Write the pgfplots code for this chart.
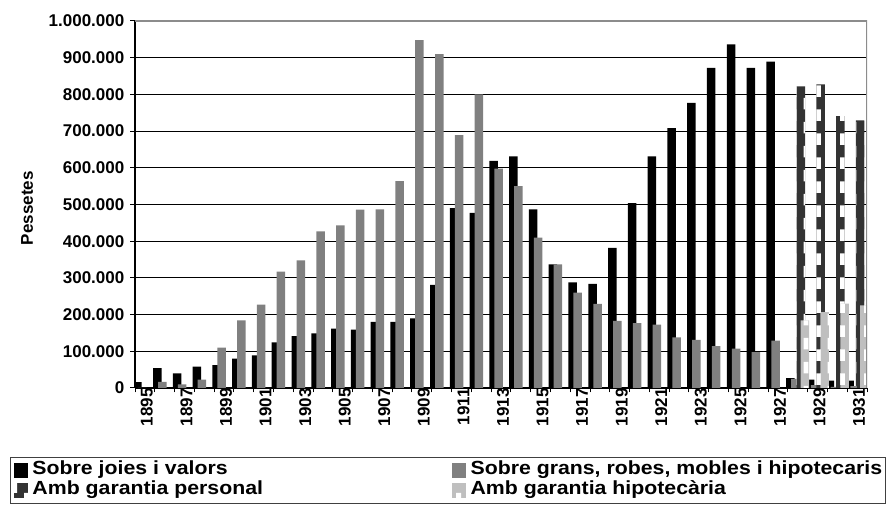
\documentclass[border=0pt]{standalone}
\usepackage{fontspec}
\setmainfont{Liberation Sans}
\newfontfamily\legfam[FakeStretch=1.12]{Liberation Sans}
\usepackage{pgfplots}
\pgfplotsset{compat=1.18}
\usetikzlibrary{patterns.meta}
\pgfdeclarepattern{
  name=bigchk,
  type=uncolored,
  bottom left={\pgfpoint{0pt}{0pt}},
  top right={\pgfpoint{24pt}{24pt}},
  tile size={\pgfpoint{24pt}{24pt}},
  code={
    \pgfpathrectangle{\pgfpoint{0pt}{0pt}}{\pgfpoint{5pt}{12pt}}
    \pgfpathrectangle{\pgfpoint{12pt}{12pt}}{\pgfpoint{5pt}{12pt}}
    \pgfusepath{fill}
  }
}
\newcommand\tickfont{\fontsize{17}{19}\selectfont\bfseries}
\newcommand\legfont{\legfam\fontsize{19}{20}\selectfont\bfseries}
\pgfplotsset{myleg/.style={legend image code/.code={\fill[##1] (0pt,-7.5pt) rectangle (14pt,7.5pt);}}}
\begin{document}
\begin{tikzpicture}
\useasboundingbox (0,0) rectangle (886pt,505pt);
\begin{axis}[
  at={(135pt,117pt)}, anchor=south west,
  scale only axis, width=732pt, height=367pt,
  xmin=-0.5, xmax=36.5, ymin=0, ymax=1000000,
  axis x line*=bottom, axis y line*=left,
  axis line style={black, line width=1.2pt},
  tick align=outside,
  major tick length=4.5pt,
  ytick={0,100000,200000,300000,400000,500000,600000,700000,800000,900000,1000000},
  yticklabels={0,100.000,200.000,300.000,400.000,500.000,600.000,700.000,800.000,900.000,1.000.000},
  scaled y ticks=false,
  ymajorgrids, grid style={black, line width=1.1pt},
  ytick style={black, line width=1pt},
  yticklabel style={font=\tickfont, inner xsep=0pt, xshift=-6pt},
  xtick={-0.5,0.5,...,36.5}, xticklabels={},
  xtick style={black, line width=1pt},
  extra x ticks={0,2,...,36},
  extra x tick labels={1895,1897,1899,1901,1903,1905,1907,1909,1911,1913,1915,1917,1919,1921,1923,1925,1927,1929,1931},
  extra x tick style={major tick length=0pt, tick label style={rotate=90, anchor=east, font=\tickfont, inner sep=0pt, yshift=-2pt}},
  ylabel={Pessetes},
  ylabel style={at={(axis description cs:-0.1475,0.49)}, anchor=center, font=\tickfont},
  bar width=8.5pt,
  legend columns=2,
  legend cell align=left,
  legend style={at={(axis description cs:-0.17077,-0.188)}, anchor=north west,
    draw=black!75, line width=1pt, inner xsep=3.5pt, inner ysep=3pt,
    font=\legfont, row sep=0pt,
    nodes={inner xsep=0pt, inner ysep=0pt, text height=14pt, text depth=6pt},
    /tikz/every odd column/.append style={column sep=4.5pt},
    /tikz/every even column/.append style={column sep=189pt}},
]
\addplot[ybar, bar shift=-7.4pt, fill=black, draw=none, myleg] coordinates {
(0,16000)(1,54000)(2,40000)(3,58000)(4,62000)(5,80000)(6,89000)(7,124000)(8,141000)(9,149000)
(10,162000)(11,159000)(12,180000)(13,180000)(14,190000)(15,281000)(16,490000)(17,477000)(18,619000)(19,631000)
(20,487000)(21,337000)(22,288000)(23,284000)(24,382000)(25,504000)(26,631000)(27,708000)(28,777000)(29,872000)
(30,936000)(31,872000)(32,889000)(33,27000)(34,23000)(35,20000)(36,20000)};
\addlegendentry{Sobre joies i valors}
\addplot[ybar, bar shift=-2.4pt, fill=black!50, draw=none, myleg] coordinates {
(0,0)(1,17000)(2,10000)(3,23000)(4,110000)(5,184000)(6,227000)(7,317000)(8,348000)(9,427000)
(10,443000)(11,486000)(12,487000)(13,564000)(14,948000)(15,910000)(16,689000)(17,800000)(18,598000)(19,550000)
(20,410000)(21,337000)(22,260000)(23,229000)(24,183000)(25,177000)(26,173000)(27,138000)(28,131000)(29,114000)
(30,107000)(31,98000)(32,129000)(33,25000)(34,8000)(35,3000)(36,5000)};
\addlegendentry{Sobre grans, robes, mobles i hipotecaris}
\addplot[ybar, bar shift=3pt, fill=black!80, draw=none, postaction={pattern=bigchk, pattern color=white}, myleg] coordinates {
(33,822000)(34,827000)(35,741000)(36,729000)};
\addlegendentry{Amb garantia personal}
\addplot[ybar, bar shift=7.2pt, fill=black!25, draw=none, postaction={pattern=bigchk, pattern color=white}, myleg] coordinates {
(33,184000)(34,207000)(35,230000)(36,225000)};
\addlegendentry{Amb garantia hipotecària}
\draw[black!45, line width=1.2pt] (rel axis cs:0,1) -- (rel axis cs:1,1) -- (rel axis cs:1,0);
\end{axis}
\end{tikzpicture}
\end{document}
